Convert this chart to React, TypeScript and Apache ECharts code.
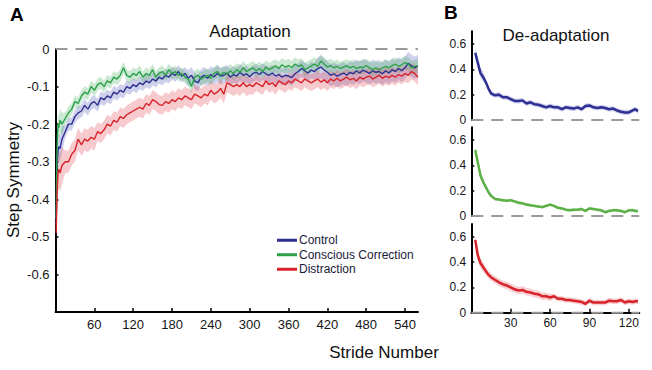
import React, { useEffect, useRef } from "react";
import * as echarts from "echarts";

// ---------- Panel A: Adaptation ----------
const strideA = [
  1, 2, 3, 4, 5, 7,
  10, 15, 20, 25, 30, 35, 40, 45, 50, 55,
  60, 65, 70, 75, 80, 85, 90, 95, 100, 105,
  110, 115, 120, 125, 130, 135, 140, 145, 150, 155,
  160, 165, 170, 175, 180, 185, 190, 195, 200, 205,
  210, 215, 220, 225, 230, 235, 240, 245, 250, 255,
  260, 265, 270, 275, 280, 285, 290, 295, 300, 305,
  310, 315, 320, 325, 330, 335, 340, 345, 350, 355,
  360, 365, 370, 375, 380, 385, 390, 395, 400, 405,
  410, 415, 420, 425, 430, 435, 440, 445, 450, 455,
  460, 465, 470, 475, 480, 485, 490, 495, 500, 505,
  510, 515, 520, 525, 530, 535, 540, 545, 550, 555,
  560,
];

const controlA = [
  -0.47, -0.36, -0.29, -0.27, -0.26, -0.265,
  -0.24, -0.22, -0.2, -0.2, -0.18, -0.17, -0.165, -0.15, -0.16, -0.145,
  -0.14, -0.15, -0.13, -0.135, -0.125, -0.13, -0.115, -0.12, -0.11, -0.115,
  -0.1, -0.105, -0.095, -0.1, -0.09, -0.095, -0.085, -0.09, -0.08, -0.085,
  -0.075, -0.08, -0.07, -0.075, -0.065, -0.07, -0.06, -0.072, -0.065, -0.078,
  -0.07, -0.085, -0.09, -0.075, -0.07, -0.078, -0.068, -0.074, -0.065, -0.072,
  -0.07, -0.064, -0.075, -0.068, -0.072, -0.062, -0.07, -0.066, -0.074, -0.065,
  -0.062, -0.068, -0.06, -0.066, -0.07, -0.064, -0.072, -0.068, -0.075, -0.07,
  -0.072, -0.076, -0.066, -0.06, -0.052, -0.058, -0.064, -0.056, -0.06, -0.052,
  -0.048, -0.056, -0.062, -0.07, -0.066, -0.072, -0.068, -0.064, -0.07, -0.062,
  -0.066, -0.058, -0.064, -0.056, -0.06, -0.065, -0.058, -0.062, -0.06, -0.066,
  -0.058, -0.064, -0.055, -0.06, -0.052, -0.058, -0.05, -0.038, -0.045, -0.05,
  -0.045,
];

const consciousA = [
  -0.45, -0.3, -0.23, -0.2, -0.21, -0.19,
  -0.2, -0.185, -0.17, -0.16, -0.14, -0.145, -0.125, -0.115, -0.12, -0.1,
  -0.11, -0.095, -0.09, -0.1, -0.085, -0.09, -0.075, -0.08, -0.07, -0.05,
  -0.07, -0.075, -0.065, -0.07, -0.06, -0.075, -0.065, -0.07, -0.055, -0.075,
  -0.065, -0.06, -0.07, -0.055, -0.065, -0.06, -0.07, -0.065, -0.075, -0.08,
  -0.1, -0.075, -0.07, -0.08, -0.075, -0.07, -0.078, -0.065, -0.06, -0.07,
  -0.062, -0.068, -0.058, -0.065, -0.055, -0.062, -0.05, -0.06, -0.055, -0.05,
  -0.058, -0.052, -0.06, -0.048, -0.055, -0.05, -0.045, -0.052, -0.042, -0.048,
  -0.044, -0.05, -0.04, -0.046, -0.042, -0.055, -0.05, -0.045, -0.04, -0.046,
  -0.032, -0.04, -0.048, -0.044, -0.05, -0.046, -0.052, -0.048, -0.045, -0.05,
  -0.046, -0.052, -0.048, -0.05, -0.044, -0.05, -0.055, -0.05, -0.056, -0.05,
  -0.046, -0.05, -0.044, -0.04, -0.046, -0.042, -0.036, -0.04, -0.05, -0.046,
  -0.045,
];

const distractionA = [
  -0.49, -0.42, -0.36, -0.33, -0.32, -0.33,
  -0.31, -0.3, -0.3, -0.28, -0.27, -0.24, -0.255, -0.24, -0.245, -0.235,
  -0.24, -0.22, -0.225, -0.215, -0.2, -0.205, -0.19, -0.195, -0.18, -0.185,
  -0.175, -0.17, -0.165, -0.16, -0.155, -0.16, -0.145, -0.15, -0.135, -0.14,
  -0.148, -0.15, -0.14, -0.145, -0.135, -0.14, -0.13, -0.135, -0.125, -0.13,
  -0.135, -0.12, -0.125, -0.13, -0.12, -0.125, -0.11, -0.12, -0.115, -0.105,
  -0.12, -0.09, -0.095, -0.1, -0.095, -0.1, -0.09, -0.1, -0.095, -0.1,
  -0.09, -0.095, -0.1, -0.085, -0.095, -0.09, -0.1, -0.085, -0.09, -0.095,
  -0.085, -0.09, -0.08, -0.085, -0.09, -0.08, -0.085, -0.09, -0.085, -0.08,
  -0.088, -0.082, -0.09, -0.08, -0.085, -0.078, -0.085, -0.08, -0.075, -0.082,
  -0.078, -0.085, -0.075, -0.08, -0.075, -0.072, -0.08, -0.075, -0.07, -0.078,
  -0.072, -0.076, -0.07, -0.075, -0.068, -0.072, -0.065, -0.07, -0.06, -0.065,
  -0.075,
];

// error band half-widths: [up to stride, half-width]
const controlBandA = [[10, 0.035], [200, 0.017], [400, 0.022], [560, 0.03]];
const consciousBandA = [[10, 0.03], [200, 0.016], [560, 0.018]];
const distractionBandA = [[10, 0.05], [60, 0.03], [300, 0.025], [560, 0.022]];

const xTicksA = [60, 120, 180, 240, 300, 360, 420, 480, 540];
const yTicksA = [0, -0.1, -0.2, -0.3, -0.4, -0.5, -0.6];

// ---------- Panel B: De-adaptation ----------
const strideB = [
  3, 5, 7, 9, 11, 13, 15, 18, 21, 24, 27, 30, 33, 36, 39, 42, 45, 48, 51, 54,
  57, 60, 63, 66, 69, 72, 75, 78, 81, 84, 87, 90, 93, 96, 99, 102, 105, 108,
  111, 114, 117, 120, 123, 125, 127,
];

const controlB = [
  0.53, 0.45, 0.37, 0.34, 0.3, 0.25, 0.21, 0.195, 0.2, 0.18, 0.18, 0.165, 0.15,
  0.15, 0.155, 0.13, 0.14, 0.125, 0.12, 0.11, 0.1, 0.11, 0.1, 0.1, 0.085, 0.1,
  0.095, 0.09, 0.1, 0.085, 0.11, 0.115, 0.1, 0.095, 0.1, 0.095, 0.085, 0.09,
  0.075, 0.065, 0.06, 0.06, 0.075, 0.085, 0.07,
];

const consciousB = [
  0.52, 0.42, 0.32, 0.27, 0.23, 0.19, 0.16, 0.135, 0.13, 0.125, 0.12, 0.125,
  0.115, 0.105, 0.1, 0.09, 0.085, 0.08, 0.075, 0.07, 0.08, 0.09, 0.08, 0.065,
  0.06, 0.05, 0.045, 0.05, 0.05, 0.055, 0.04, 0.06, 0.055, 0.05, 0.045, 0.03,
  0.04, 0.045, 0.045, 0.04, 0.03, 0.045, 0.045, 0.04, 0.04,
];

const distractionB = [
  0.575, 0.45, 0.39, 0.36, 0.33, 0.3, 0.28, 0.26, 0.24, 0.225, 0.215, 0.2,
  0.185, 0.175, 0.18, 0.165, 0.16, 0.15, 0.145, 0.13, 0.13, 0.12, 0.13, 0.11,
  0.11, 0.1, 0.1, 0.095, 0.09, 0.085, 0.07, 0.095, 0.08, 0.08, 0.08, 0.08,
  0.095, 0.09, 0.09, 0.1, 0.08, 0.09, 0.085, 0.09, 0.09,
];

const controlBandB = [[10, 0.04], [128, 0.02]];
const consciousBandB = [[10, 0.03], [128, 0.012]];
const distractionBandB = [[10, 0.04], [60, 0.03], [128, 0.022]];

const xTicksB = [30, 60, 90, 120];
const yTicksB = [0, 0.2, 0.4, 0.6];

const seriesNames = ["Control", "Conscious Correction", "Distraction"];

const FONT = "'Liberation Sans', Arial, Helvetica, sans-serif";

function halfWidth(s: number, bands: number[][]) {
  for (const b of bands) if (s <= b[0]) return b[1];
  return bands[bands.length - 1][1];
}

function band(gi: number, xs: number[], ys: number[], bands: number[][], fill: string) {
  return {
    type: "custom",
    xAxisIndex: gi,
    yAxisIndex: gi,
    silent: true,
    z: 1,
    clip: false,
    data: [[xs[0], ys[0]]],
    renderItem: (_p: any, api: any) => {
      const up = xs.map((x, i) => api.coord([x, ys[i] + halfWidth(x, bands)]));
      const lo = xs
        .map((x, i) => api.coord([x, ys[i] - halfWidth(x, bands)]))
        .reverse();
      return {
        type: "polygon",
        shape: { points: up.concat(lo) },
        style: { fill },
      };
    },
  };
}

function line(gi: number, name: string, xs: number[], ys: number[], color: string, width: number) {
  return {
    type: "line",
    name,
    xAxisIndex: gi,
    yAxisIndex: gi,
    data: xs.map((x, i) => [x, ys[i]]),
    showSymbol: false,
    symbol: "none",
    z: 3,
    clip: false,
    lineStyle: { color, width },
    itemStyle: { color },
  };
}

function dashed(gi: number, xmax: number) {
  return {
    type: "line",
    xAxisIndex: gi,
    yAxisIndex: gi,
    data: [
      [0, 0],
      [xmax, 0],
    ],
    symbol: "none",
    silent: true,
    clip: false,
    z: 4,
    lineStyle: { color: "#9a9a9a", width: 2, type: [12, 8] },
  };
}

const BLUE = "#2d3092";
const GREEN = "#2ca14a";
const RED = "#d8232a";
const GREEN_B = "#5bb046";

export default function App() {
  const ref = useRef<HTMLDivElement>(null);

  useEffect(() => {
    if (!ref.current) return;
    const chart = echarts.init(ref.current, undefined, { renderer: "svg" });

    const labelStyle = { color: "#151515", fontFamily: FONT };
    const axisLineStyle = { show: true, onZero: false, lineStyle: { color: "#000", width: 2 } };

    const bGrid = (top: number) => ({ left: 471.3, top, width: 168, height: 88.7 });

    const yB = (gi: number) => ({
      type: "value",
      gridIndex: gi,
      min: 0,
      max: 0.7,
      axisLine: axisLineStyle,
      axisTick: { show: true, inside: true, length: 3, customValues: yTicksB, lineStyle: { color: "#000", width: 1.5 } },
      axisLabel: {
        ...labelStyle,
        fontSize: 12,
        margin: 5,
        customValues: yTicksB,
        formatter: (v: number) => (v === 0 ? "0" : v.toFixed(1)),
      },
      splitLine: { show: false },
    });

    const xBHidden = (gi: number) => ({
      type: "value",
      gridIndex: gi,
      min: 0,
      max: 128,
      axisLine: { show: false },
      axisTick: { show: false },
      axisLabel: { show: false },
      splitLine: { show: false },
    });

    const option: any = {
      animation: false,
      backgroundColor: "#fff",
      textStyle: { fontFamily: FONT },
      grid: [
        { left: 55.5, top: 49, width: 362.5, height: 263 },
        bGrid(31.3),
        bGrid(127.3),
        bGrid(224),
      ],
      xAxis: [
        {
          type: "value",
          gridIndex: 0,
          min: 0,
          max: 560,
          axisLine: axisLineStyle,
          axisTick: { show: true, inside: true, length: 4, customValues: xTicksA, lineStyle: { color: "#000", width: 1.5 } },
          axisLabel: { ...labelStyle, fontSize: 13, margin: 6, customValues: xTicksA },
          splitLine: { show: false },
        },
        xBHidden(1),
        xBHidden(2),
        {
          type: "value",
          gridIndex: 3,
          min: 0,
          max: 128,
          axisLine: axisLineStyle,
          axisTick: { show: true, inside: true, length: 4, customValues: xTicksB, lineStyle: { color: "#000", width: 1.5 } },
          axisLabel: { ...labelStyle, fontSize: 12, margin: 4, customValues: xTicksB },
          splitLine: { show: false },
        },
      ],
      yAxis: [
        {
          type: "value",
          gridIndex: 0,
          min: -0.7,
          max: 0,
          axisLine: axisLineStyle,
          axisTick: { show: true, inside: true, length: 3, customValues: yTicksA, lineStyle: { color: "#000", width: 1.5 } },
          axisLabel: {
            ...labelStyle,
            fontSize: 13,
            margin: 6,
            customValues: yTicksA,
            formatter: (v: number) => (v === 0 ? "0" : v.toFixed(1)),
          },
          splitLine: { show: false },
        },
        yB(1),
        yB(2),
        yB(3),
      ],
      legend: {
        data: seriesNames,
        orient: "vertical",
        left: 277,
        top: 234,
        padding: 0,
        itemGap: 2,
        itemWidth: 20,
        itemHeight: 3,
        icon: "rect",
        textStyle: { fontSize: 12, fontFamily: FONT, color: "#1a1a3a", lineHeight: 12.5, padding: [0, 0, 0, -3] },
        selectedMode: false,
      },
      graphic: [
        { type: "text", left: 10, top: 5, style: { text: "A", font: `bold 19px ${FONT}`, fill: "#000" } },
        { type: "text", left: 444, top: 3, style: { text: "B", font: `bold 19px ${FONT}`, fill: "#000" } },
        {
          type: "text",
          x: 250,
          y: 31,
          style: { text: "Adaptation", font: `17px ${FONT}`, fill: "#111", align: "center", verticalAlign: "middle" },
        },
        {
          type: "text",
          x: 556,
          y: 35,
          style: { text: "De-adaptation", font: `17px ${FONT}`, fill: "#111", align: "center", verticalAlign: "middle" },
        },
        {
          type: "text",
          x: 384,
          y: 352,
          style: { text: "Stride Number", font: `17px ${FONT}`, fill: "#111", align: "center", verticalAlign: "middle" },
        },
        {
          type: "text",
          x: 13,
          y: 180,
          rotation: Math.PI / 2,
          style: { text: "Step Symmetry", font: `17px ${FONT}`, fill: "#111", align: "center", verticalAlign: "middle" },
        },
      ],
      series: [
        band(0, strideA, controlA, controlBandA, "rgba(95,98,190,0.30)"),
        band(0, strideA, consciousA, consciousBandA, "rgba(70,175,95,0.28)"),
        band(0, strideA, distractionA, distractionBandA, "rgba(225,70,80,0.28)"),
        line(0, seriesNames[0], strideA, controlA, BLUE, 1.4),
        line(0, seriesNames[1], strideA, consciousA, GREEN, 1.4),
        line(0, seriesNames[2], strideA, distractionA, RED, 1.4),
        dashed(0, 560),

        band(1, strideB, controlB, controlBandB, "rgba(95,98,190,0.28)"),
        line(1, "ControlB", strideB, controlB, BLUE, 2.5),
        dashed(1, 128),

        band(2, strideB, consciousB, consciousBandB, "rgba(91,176,70,0.25)"),
        line(2, "ConsciousB", strideB, consciousB, GREEN_B, 2.5),
        dashed(2, 128),

        band(3, strideB, distractionB, distractionBandB, "rgba(225,70,80,0.25)"),
        line(3, "DistractionB", strideB, distractionB, RED, 2.5),
        dashed(3, 128),
      ],
    };

    chart.setOption(option);
    return () => chart.dispose();
  }, []);

  return (
    <div
      ref={ref}
      style={{ position: "absolute", left: 0, top: 0, width: 652, height: 370, background: "#fff" }}
    />
  );
}
